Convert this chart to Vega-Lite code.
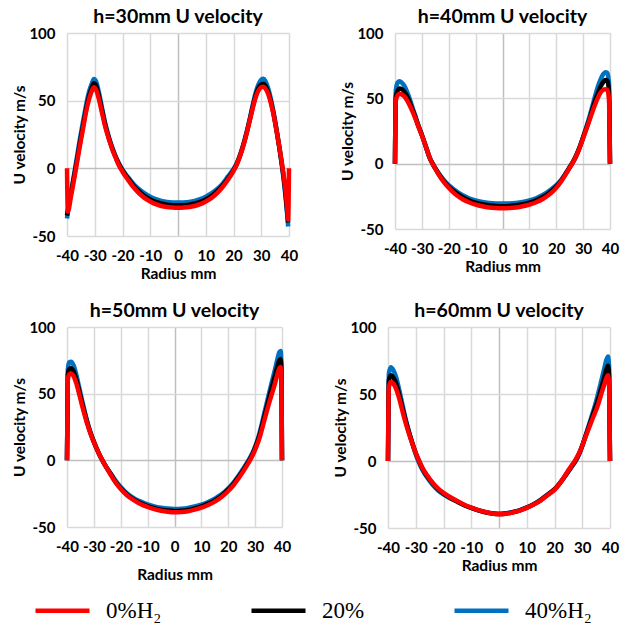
{
"$schema": "https://vega.github.io/schema/vega-lite/v6.json",
"padding": {"left": 12, "top": 6, "right": 5, "bottom": 0},
"background": "white",
"datasets": {"d": [
{"p":30,"s":"40%H₂","x":-40,"y":-37},{"p":30,"s":"40%H₂","x":-39.7,"y":-32},{"p":30,"s":"40%H₂","x":-38.5,"y":-17},{"p":30,"s":"40%H₂","x":-37,"y":1},{"p":30,"s":"40%H₂","x":-35.5,"y":20},{"p":30,"s":"40%H₂","x":-34,"y":37},{"p":30,"s":"40%H₂","x":-33,"y":48},{"p":30,"s":"40%H₂","x":-32,"y":57},{"p":30,"s":"40%H₂","x":-31,"y":63},{"p":30,"s":"40%H₂","x":-30.3,"y":66},{"p":30,"s":"40%H₂","x":-29.5,"y":64},{"p":30,"s":"40%H₂","x":-28.5,"y":56},{"p":30,"s":"40%H₂","x":-27.5,"y":46},{"p":30,"s":"40%H₂","x":-26.5,"y":36},{"p":30,"s":"40%H₂","x":-25.5,"y":27.5},{"p":30,"s":"40%H₂","x":-24.5,"y":20.5},{"p":30,"s":"40%H₂","x":-23.5,"y":14.5},{"p":30,"s":"40%H₂","x":-22.5,"y":9},{"p":30,"s":"40%H₂","x":-21.5,"y":4.5},{"p":30,"s":"40%H₂","x":-20,"y":-1},{"p":30,"s":"40%H₂","x":-18,"y":-6.5},{"p":30,"s":"40%H₂","x":-16,"y":-11.5},{"p":30,"s":"40%H₂","x":-14,"y":-15.5},{"p":30,"s":"40%H₂","x":-12,"y":-18.5},{"p":30,"s":"40%H₂","x":-10,"y":-21},{"p":30,"s":"40%H₂","x":-8,"y":-22.8},{"p":30,"s":"40%H₂","x":-6,"y":-24},{"p":30,"s":"40%H₂","x":-4,"y":-24.8},{"p":30,"s":"40%H₂","x":-2,"y":-25.2},{"p":30,"s":"40%H₂","x":0,"y":-25.3},{"p":30,"s":"40%H₂","x":2,"y":-25.2},{"p":30,"s":"40%H₂","x":4,"y":-24.8},{"p":30,"s":"40%H₂","x":6,"y":-24},{"p":30,"s":"40%H₂","x":8,"y":-22.8},{"p":30,"s":"40%H₂","x":10,"y":-21},{"p":30,"s":"40%H₂","x":12,"y":-18.5},{"p":30,"s":"40%H₂","x":14,"y":-15.5},{"p":30,"s":"40%H₂","x":16,"y":-11.5},{"p":30,"s":"40%H₂","x":18,"y":-6},{"p":30,"s":"40%H₂","x":20,"y":-0.5},{"p":30,"s":"40%H₂","x":21,"y":3},{"p":30,"s":"40%H₂","x":22,"y":8},{"p":30,"s":"40%H₂","x":23,"y":14},{"p":30,"s":"40%H₂","x":24,"y":21},{"p":30,"s":"40%H₂","x":25,"y":29},{"p":30,"s":"40%H₂","x":26,"y":38},{"p":30,"s":"40%H₂","x":27,"y":47.5},{"p":30,"s":"40%H₂","x":28,"y":56},{"p":30,"s":"40%H₂","x":29,"y":62},{"p":30,"s":"40%H₂","x":30,"y":65.5},{"p":30,"s":"40%H₂","x":30.8,"y":66.2},{"p":30,"s":"40%H₂","x":31.5,"y":64.5},{"p":30,"s":"40%H₂","x":32.5,"y":59},{"p":30,"s":"40%H₂","x":33.5,"y":51},{"p":30,"s":"40%H₂","x":34.5,"y":41},{"p":30,"s":"40%H₂","x":35.5,"y":29},{"p":30,"s":"40%H₂","x":36.5,"y":16},{"p":30,"s":"40%H₂","x":37.5,"y":1},{"p":30,"s":"40%H₂","x":38.5,"y":-16},{"p":30,"s":"40%H₂","x":39.3,"y":-33},{"p":30,"s":"40%H₂","x":39.7,"y":-43},
{"p":30,"s":"20%","x":-40,"y":-35},{"p":30,"s":"20%","x":-39.7,"y":-31},{"p":30,"s":"20%","x":-38.5,"y":-18},{"p":30,"s":"20%","x":-37,"y":-1},{"p":30,"s":"20%","x":-35.5,"y":17},{"p":30,"s":"20%","x":-34,"y":34},{"p":30,"s":"20%","x":-33,"y":45},{"p":30,"s":"20%","x":-32,"y":54},{"p":30,"s":"20%","x":-31,"y":60},{"p":30,"s":"20%","x":-30.3,"y":62.8},{"p":30,"s":"20%","x":-29.5,"y":61},{"p":30,"s":"20%","x":-28.5,"y":53.5},{"p":30,"s":"20%","x":-27.5,"y":44},{"p":30,"s":"20%","x":-26.5,"y":34.5},{"p":30,"s":"20%","x":-25.5,"y":26.5},{"p":30,"s":"20%","x":-24.5,"y":19.5},{"p":30,"s":"20%","x":-23.5,"y":13.5},{"p":30,"s":"20%","x":-22.5,"y":8.5},{"p":30,"s":"20%","x":-21.5,"y":4},{"p":30,"s":"20%","x":-20,"y":-1.5},{"p":30,"s":"20%","x":-18,"y":-7.5},{"p":30,"s":"20%","x":-16,"y":-12.8},{"p":30,"s":"20%","x":-14,"y":-17},{"p":30,"s":"20%","x":-12,"y":-20.5},{"p":30,"s":"20%","x":-10,"y":-23},{"p":30,"s":"20%","x":-8,"y":-24.8},{"p":30,"s":"20%","x":-6,"y":-26},{"p":30,"s":"20%","x":-4,"y":-26.8},{"p":30,"s":"20%","x":-2,"y":-27.2},{"p":30,"s":"20%","x":0,"y":-27.3},{"p":30,"s":"20%","x":2,"y":-27.2},{"p":30,"s":"20%","x":4,"y":-26.8},{"p":30,"s":"20%","x":6,"y":-26},{"p":30,"s":"20%","x":8,"y":-24.8},{"p":30,"s":"20%","x":10,"y":-23},{"p":30,"s":"20%","x":12,"y":-20.5},{"p":30,"s":"20%","x":14,"y":-17},{"p":30,"s":"20%","x":16,"y":-12.8},{"p":30,"s":"20%","x":18,"y":-7.5},{"p":30,"s":"20%","x":20,"y":-1.5},{"p":30,"s":"20%","x":21,"y":2.5},{"p":30,"s":"20%","x":22,"y":7.5},{"p":30,"s":"20%","x":23,"y":13.5},{"p":30,"s":"20%","x":24,"y":20.5},{"p":30,"s":"20%","x":25,"y":28.5},{"p":30,"s":"20%","x":26,"y":37},{"p":30,"s":"20%","x":27,"y":46},{"p":30,"s":"20%","x":28,"y":54},{"p":30,"s":"20%","x":29,"y":59.5},{"p":30,"s":"20%","x":30,"y":62},{"p":30,"s":"20%","x":30.8,"y":62.5},{"p":30,"s":"20%","x":31.5,"y":61},{"p":30,"s":"20%","x":32.5,"y":56.5},{"p":30,"s":"20%","x":33.5,"y":49},{"p":30,"s":"20%","x":34.5,"y":39.5},{"p":30,"s":"20%","x":35.5,"y":28},{"p":30,"s":"20%","x":36.5,"y":15.5},{"p":30,"s":"20%","x":37.5,"y":2},{"p":30,"s":"20%","x":38.5,"y":-14},{"p":30,"s":"20%","x":39.3,"y":-31},{"p":30,"s":"20%","x":39.7,"y":-40},
{"p":30,"s":"0%H₂","x":-40,"y":0},{"p":30,"s":"0%H₂","x":-39.7,"y":-32},{"p":30,"s":"0%H₂","x":-38.5,"y":-20},{"p":30,"s":"0%H₂","x":-37,"y":-3},{"p":30,"s":"0%H₂","x":-35.5,"y":15},{"p":30,"s":"0%H₂","x":-34,"y":32},{"p":30,"s":"0%H₂","x":-33,"y":43},{"p":30,"s":"0%H₂","x":-32,"y":51.5},{"p":30,"s":"0%H₂","x":-31,"y":57.5},{"p":30,"s":"0%H₂","x":-30.3,"y":60},{"p":30,"s":"0%H₂","x":-29.5,"y":58},{"p":30,"s":"0%H₂","x":-28.5,"y":51},{"p":30,"s":"0%H₂","x":-27.5,"y":42},{"p":30,"s":"0%H₂","x":-26.5,"y":33},{"p":30,"s":"0%H₂","x":-25.5,"y":25.5},{"p":30,"s":"0%H₂","x":-24.5,"y":19},{"p":30,"s":"0%H₂","x":-23.5,"y":13},{"p":30,"s":"0%H₂","x":-22.5,"y":8},{"p":30,"s":"0%H₂","x":-21.5,"y":3},{"p":30,"s":"0%H₂","x":-20,"y":-2.5},{"p":30,"s":"0%H₂","x":-18,"y":-8.5},{"p":30,"s":"0%H₂","x":-16,"y":-14},{"p":30,"s":"0%H₂","x":-14,"y":-18.5},{"p":30,"s":"0%H₂","x":-12,"y":-22},{"p":30,"s":"0%H₂","x":-10,"y":-24.5},{"p":30,"s":"0%H₂","x":-8,"y":-26.5},{"p":30,"s":"0%H₂","x":-6,"y":-27.8},{"p":30,"s":"0%H₂","x":-4,"y":-28.6},{"p":30,"s":"0%H₂","x":-2,"y":-29},{"p":30,"s":"0%H₂","x":0,"y":-29.2},{"p":30,"s":"0%H₂","x":2,"y":-29},{"p":30,"s":"0%H₂","x":4,"y":-28.6},{"p":30,"s":"0%H₂","x":6,"y":-27.8},{"p":30,"s":"0%H₂","x":8,"y":-26.5},{"p":30,"s":"0%H₂","x":10,"y":-24.5},{"p":30,"s":"0%H₂","x":12,"y":-22},{"p":30,"s":"0%H₂","x":14,"y":-18.5},{"p":30,"s":"0%H₂","x":16,"y":-14},{"p":30,"s":"0%H₂","x":18,"y":-8.5},{"p":30,"s":"0%H₂","x":20,"y":-2},{"p":30,"s":"0%H₂","x":21,"y":2},{"p":30,"s":"0%H₂","x":22,"y":7},{"p":30,"s":"0%H₂","x":23,"y":13},{"p":30,"s":"0%H₂","x":24,"y":20},{"p":30,"s":"0%H₂","x":25,"y":28},{"p":30,"s":"0%H₂","x":26,"y":36.5},{"p":30,"s":"0%H₂","x":27,"y":45},{"p":30,"s":"0%H₂","x":28,"y":52.5},{"p":30,"s":"0%H₂","x":29,"y":57.5},{"p":30,"s":"0%H₂","x":30,"y":60},{"p":30,"s":"0%H₂","x":30.8,"y":60.3},{"p":30,"s":"0%H₂","x":31.5,"y":59},{"p":30,"s":"0%H₂","x":32.5,"y":55},{"p":30,"s":"0%H₂","x":33.5,"y":48},{"p":30,"s":"0%H₂","x":34.5,"y":39},{"p":30,"s":"0%H₂","x":35.5,"y":28},{"p":30,"s":"0%H₂","x":36.5,"y":16},{"p":30,"s":"0%H₂","x":37.5,"y":3},{"p":30,"s":"0%H₂","x":38.5,"y":-12},{"p":30,"s":"0%H₂","x":39.3,"y":-28},{"p":30,"s":"0%H₂","x":39.7,"y":-38},{"p":30,"s":"0%H₂","x":40,"y":0},

{"p":40,"s":"40%H₂","x":-40,"y":0},{"p":40,"s":"40%H₂","x":-39.7,"y":56},{"p":40,"s":"40%H₂","x":-39,"y":62},{"p":40,"s":"40%H₂","x":-38.3,"y":63},{"p":40,"s":"40%H₂","x":-37.5,"y":62},{"p":40,"s":"40%H₂","x":-36.5,"y":59.5},{"p":40,"s":"40%H₂","x":-35.5,"y":55},{"p":40,"s":"40%H₂","x":-34.5,"y":49.5},{"p":40,"s":"40%H₂","x":-33.5,"y":43},{"p":40,"s":"40%H₂","x":-32.5,"y":37},{"p":40,"s":"40%H₂","x":-31.5,"y":30.5},{"p":40,"s":"40%H₂","x":-30,"y":22},{"p":40,"s":"40%H₂","x":-28.5,"y":13},{"p":40,"s":"40%H₂","x":-27,"y":4},{"p":40,"s":"40%H₂","x":-25.5,"y":-1.5},{"p":40,"s":"40%H₂","x":-24,"y":-6.5},{"p":40,"s":"40%H₂","x":-22,"y":-12},{"p":40,"s":"40%H₂","x":-20,"y":-16.5},{"p":40,"s":"40%H₂","x":-17.5,"y":-20.5},{"p":40,"s":"40%H₂","x":-15,"y":-24},{"p":40,"s":"40%H₂","x":-12.5,"y":-26.5},{"p":40,"s":"40%H₂","x":-10,"y":-28.2},{"p":40,"s":"40%H₂","x":-7.5,"y":-29.3},{"p":40,"s":"40%H₂","x":-5,"y":-30},{"p":40,"s":"40%H₂","x":-2.5,"y":-30.4},{"p":40,"s":"40%H₂","x":0,"y":-30.5},{"p":40,"s":"40%H₂","x":2.5,"y":-30.4},{"p":40,"s":"40%H₂","x":5,"y":-30},{"p":40,"s":"40%H₂","x":7.5,"y":-29.3},{"p":40,"s":"40%H₂","x":10,"y":-28.2},{"p":40,"s":"40%H₂","x":12.5,"y":-26.5},{"p":40,"s":"40%H₂","x":15,"y":-24},{"p":40,"s":"40%H₂","x":17.5,"y":-20.5},{"p":40,"s":"40%H₂","x":20,"y":-16.5},{"p":40,"s":"40%H₂","x":22,"y":-12},{"p":40,"s":"40%H₂","x":24,"y":-6},{"p":40,"s":"40%H₂","x":25.5,"y":-1},{"p":40,"s":"40%H₂","x":27,"y":4},{"p":40,"s":"40%H₂","x":28.5,"y":11.5},{"p":40,"s":"40%H₂","x":30,"y":20.5},{"p":40,"s":"40%H₂","x":31.5,"y":30},{"p":40,"s":"40%H₂","x":32.5,"y":37},{"p":40,"s":"40%H₂","x":33.5,"y":44.5},{"p":40,"s":"40%H₂","x":34.5,"y":52},{"p":40,"s":"40%H₂","x":35.5,"y":59},{"p":40,"s":"40%H₂","x":36.5,"y":64.5},{"p":40,"s":"40%H₂","x":37.5,"y":68.5},{"p":40,"s":"40%H₂","x":38.3,"y":70},{"p":40,"s":"40%H₂","x":39,"y":69.5},{"p":40,"s":"40%H₂","x":39.6,"y":62},{"p":40,"s":"40%H₂","x":40,"y":0},
{"p":40,"s":"20%","x":-40,"y":0},{"p":40,"s":"20%","x":-39.7,"y":51},{"p":40,"s":"20%","x":-39,"y":56},{"p":40,"s":"20%","x":-38.3,"y":57.5},{"p":40,"s":"20%","x":-37.5,"y":57},{"p":40,"s":"20%","x":-36.5,"y":55},{"p":40,"s":"20%","x":-35.5,"y":51.5},{"p":40,"s":"20%","x":-34.5,"y":47},{"p":40,"s":"20%","x":-33.5,"y":41.5},{"p":40,"s":"20%","x":-32.5,"y":36},{"p":40,"s":"20%","x":-31.5,"y":30},{"p":40,"s":"20%","x":-30,"y":22},{"p":40,"s":"20%","x":-28.5,"y":13},{"p":40,"s":"20%","x":-27,"y":4},{"p":40,"s":"20%","x":-25.5,"y":-2},{"p":40,"s":"20%","x":-24,"y":-7},{"p":40,"s":"20%","x":-22,"y":-13},{"p":40,"s":"20%","x":-20,"y":-17.8},{"p":40,"s":"20%","x":-17.5,"y":-22},{"p":40,"s":"20%","x":-15,"y":-25.5},{"p":40,"s":"20%","x":-12.5,"y":-28},{"p":40,"s":"20%","x":-10,"y":-29.8},{"p":40,"s":"20%","x":-7.5,"y":-31},{"p":40,"s":"20%","x":-5,"y":-31.8},{"p":40,"s":"20%","x":-2.5,"y":-32.3},{"p":40,"s":"20%","x":0,"y":-32.5},{"p":40,"s":"20%","x":2.5,"y":-32.3},{"p":40,"s":"20%","x":5,"y":-31.8},{"p":40,"s":"20%","x":7.5,"y":-31},{"p":40,"s":"20%","x":10,"y":-29.8},{"p":40,"s":"20%","x":12.5,"y":-28},{"p":40,"s":"20%","x":15,"y":-25.5},{"p":40,"s":"20%","x":17.5,"y":-22},{"p":40,"s":"20%","x":20,"y":-17.5},{"p":40,"s":"20%","x":22,"y":-12.5},{"p":40,"s":"20%","x":24,"y":-6},{"p":40,"s":"20%","x":25.5,"y":-1},{"p":40,"s":"20%","x":27,"y":4.5},{"p":40,"s":"20%","x":28.5,"y":11.5},{"p":40,"s":"20%","x":30,"y":20},{"p":40,"s":"20%","x":31.5,"y":29},{"p":40,"s":"20%","x":32.5,"y":35},{"p":40,"s":"20%","x":33.5,"y":42},{"p":40,"s":"20%","x":34.5,"y":48.5},{"p":40,"s":"20%","x":35.5,"y":54},{"p":40,"s":"20%","x":36.5,"y":59},{"p":40,"s":"20%","x":37.5,"y":62.5},{"p":40,"s":"20%","x":38.3,"y":64},{"p":40,"s":"20%","x":39,"y":63.5},{"p":40,"s":"20%","x":39.6,"y":56},{"p":40,"s":"20%","x":40,"y":0},
{"p":40,"s":"0%H₂","x":-40,"y":0},{"p":40,"s":"0%H₂","x":-39.7,"y":48},{"p":40,"s":"0%H₂","x":-39,"y":52.5},{"p":40,"s":"0%H₂","x":-38.3,"y":53.5},{"p":40,"s":"0%H₂","x":-37.5,"y":53},{"p":40,"s":"0%H₂","x":-36.5,"y":51.5},{"p":40,"s":"0%H₂","x":-35.5,"y":48.5},{"p":40,"s":"0%H₂","x":-34.5,"y":44.5},{"p":40,"s":"0%H₂","x":-33.5,"y":40},{"p":40,"s":"0%H₂","x":-32.5,"y":35},{"p":40,"s":"0%H₂","x":-31.5,"y":29.5},{"p":40,"s":"0%H₂","x":-30,"y":21.5},{"p":40,"s":"0%H₂","x":-28.5,"y":13},{"p":40,"s":"0%H₂","x":-27,"y":4},{"p":40,"s":"0%H₂","x":-25.5,"y":-2},{"p":40,"s":"0%H₂","x":-24,"y":-7.5},{"p":40,"s":"0%H₂","x":-22,"y":-13.5},{"p":40,"s":"0%H₂","x":-20,"y":-18.5},{"p":40,"s":"0%H₂","x":-17.5,"y":-23.5},{"p":40,"s":"0%H₂","x":-15,"y":-27},{"p":40,"s":"0%H₂","x":-12.5,"y":-29.5},{"p":40,"s":"0%H₂","x":-10,"y":-31.3},{"p":40,"s":"0%H₂","x":-7.5,"y":-32.6},{"p":40,"s":"0%H₂","x":-5,"y":-33.5},{"p":40,"s":"0%H₂","x":-2.5,"y":-34},{"p":40,"s":"0%H₂","x":0,"y":-34.2},{"p":40,"s":"0%H₂","x":2.5,"y":-34},{"p":40,"s":"0%H₂","x":5,"y":-33.5},{"p":40,"s":"0%H₂","x":7.5,"y":-32.6},{"p":40,"s":"0%H₂","x":10,"y":-31.3},{"p":40,"s":"0%H₂","x":12.5,"y":-29.5},{"p":40,"s":"0%H₂","x":15,"y":-27},{"p":40,"s":"0%H₂","x":17.5,"y":-23.5},{"p":40,"s":"0%H₂","x":20,"y":-18.5},{"p":40,"s":"0%H₂","x":22,"y":-13},{"p":40,"s":"0%H₂","x":24,"y":-6.5},{"p":40,"s":"0%H₂","x":25.5,"y":-1.5},{"p":40,"s":"0%H₂","x":27,"y":4},{"p":40,"s":"0%H₂","x":28.5,"y":11},{"p":40,"s":"0%H₂","x":30,"y":19.5},{"p":40,"s":"0%H₂","x":31.5,"y":28},{"p":40,"s":"0%H₂","x":32.5,"y":34},{"p":40,"s":"0%H₂","x":33.5,"y":40},{"p":40,"s":"0%H₂","x":34.5,"y":45.5},{"p":40,"s":"0%H₂","x":35.5,"y":50.5},{"p":40,"s":"0%H₂","x":36.5,"y":54.5},{"p":40,"s":"0%H₂","x":37.5,"y":56.5},{"p":40,"s":"0%H₂","x":38.3,"y":57},{"p":40,"s":"0%H₂","x":39,"y":56.5},{"p":40,"s":"0%H₂","x":39.6,"y":50},{"p":40,"s":"0%H₂","x":40,"y":0},

{"p":50,"s":"40%H₂","x":-40,"y":0},{"p":50,"s":"40%H₂","x":-39.7,"y":68},{"p":50,"s":"40%H₂","x":-39.2,"y":73.5},{"p":50,"s":"40%H₂","x":-38.5,"y":74},{"p":50,"s":"40%H₂","x":-37.5,"y":71},{"p":50,"s":"40%H₂","x":-36.5,"y":64},{"p":50,"s":"40%H₂","x":-35.5,"y":55},{"p":50,"s":"40%H₂","x":-34.5,"y":46},{"p":50,"s":"40%H₂","x":-33.5,"y":37.5},{"p":50,"s":"40%H₂","x":-32.5,"y":29.5},{"p":50,"s":"40%H₂","x":-31.5,"y":22.5},{"p":50,"s":"40%H₂","x":-30.5,"y":16.5},{"p":50,"s":"40%H₂","x":-29,"y":9},{"p":50,"s":"40%H₂","x":-27.5,"y":2.5},{"p":50,"s":"40%H₂","x":-26,"y":-3},{"p":50,"s":"40%H₂","x":-24,"y":-9},{"p":50,"s":"40%H₂","x":-22,"y":-15},{"p":50,"s":"40%H₂","x":-20,"y":-20},{"p":50,"s":"40%H₂","x":-17.5,"y":-25},{"p":50,"s":"40%H₂","x":-15,"y":-28.5},{"p":50,"s":"40%H₂","x":-12.5,"y":-31},{"p":50,"s":"40%H₂","x":-10,"y":-33},{"p":50,"s":"40%H₂","x":-7.5,"y":-34.5},{"p":50,"s":"40%H₂","x":-5,"y":-35.5},{"p":50,"s":"40%H₂","x":-2.5,"y":-36.2},{"p":50,"s":"40%H₂","x":0,"y":-36.5},{"p":50,"s":"40%H₂","x":2.5,"y":-36.3},{"p":50,"s":"40%H₂","x":5,"y":-35.7},{"p":50,"s":"40%H₂","x":7.5,"y":-34.6},{"p":50,"s":"40%H₂","x":10,"y":-33.2},{"p":50,"s":"40%H₂","x":12.5,"y":-31.2},{"p":50,"s":"40%H₂","x":15,"y":-28.7},{"p":50,"s":"40%H₂","x":17.5,"y":-25.5},{"p":50,"s":"40%H₂","x":20,"y":-21},{"p":50,"s":"40%H₂","x":22,"y":-16.5},{"p":50,"s":"40%H₂","x":24,"y":-11},{"p":50,"s":"40%H₂","x":26,"y":-5},{"p":50,"s":"40%H₂","x":27.5,"y":0},{"p":50,"s":"40%H₂","x":29,"y":5.5},{"p":50,"s":"40%H₂","x":30.5,"y":13},{"p":50,"s":"40%H₂","x":31.5,"y":19.5},{"p":50,"s":"40%H₂","x":32.5,"y":27.5},{"p":50,"s":"40%H₂","x":33.5,"y":36},{"p":50,"s":"40%H₂","x":34.5,"y":44.5},{"p":50,"s":"40%H₂","x":35.5,"y":53},{"p":50,"s":"40%H₂","x":36.5,"y":61},{"p":50,"s":"40%H₂","x":37.5,"y":69},{"p":50,"s":"40%H₂","x":38.3,"y":76},{"p":50,"s":"40%H₂","x":39,"y":81},{"p":50,"s":"40%H₂","x":39.5,"y":82},{"p":50,"s":"40%H₂","x":39.8,"y":70},{"p":50,"s":"40%H₂","x":40,"y":0},
{"p":50,"s":"20%","x":-40,"y":0},{"p":50,"s":"20%","x":-39.7,"y":64},{"p":50,"s":"20%","x":-39.2,"y":68.5},{"p":50,"s":"20%","x":-38.5,"y":69},{"p":50,"s":"20%","x":-37.5,"y":66.5},{"p":50,"s":"20%","x":-36.5,"y":60.5},{"p":50,"s":"20%","x":-35.5,"y":52.5},{"p":50,"s":"20%","x":-34.5,"y":44},{"p":50,"s":"20%","x":-33.5,"y":36},{"p":50,"s":"20%","x":-32.5,"y":28.5},{"p":50,"s":"20%","x":-31.5,"y":22},{"p":50,"s":"20%","x":-30.5,"y":16.5},{"p":50,"s":"20%","x":-29,"y":9},{"p":50,"s":"20%","x":-27.5,"y":2.5},{"p":50,"s":"20%","x":-26,"y":-3},{"p":50,"s":"20%","x":-24,"y":-9.5},{"p":50,"s":"20%","x":-22,"y":-16},{"p":50,"s":"20%","x":-20,"y":-21},{"p":50,"s":"20%","x":-17.5,"y":-26},{"p":50,"s":"20%","x":-15,"y":-29.5},{"p":50,"s":"20%","x":-12.5,"y":-32.3},{"p":50,"s":"20%","x":-10,"y":-34.3},{"p":50,"s":"20%","x":-7.5,"y":-35.8},{"p":50,"s":"20%","x":-5,"y":-37},{"p":50,"s":"20%","x":-2.5,"y":-37.7},{"p":50,"s":"20%","x":0,"y":-38},{"p":50,"s":"20%","x":2.5,"y":-37.8},{"p":50,"s":"20%","x":5,"y":-37.2},{"p":50,"s":"20%","x":7.5,"y":-36},{"p":50,"s":"20%","x":10,"y":-34.5},{"p":50,"s":"20%","x":12.5,"y":-32.5},{"p":50,"s":"20%","x":15,"y":-30},{"p":50,"s":"20%","x":17.5,"y":-26.5},{"p":50,"s":"20%","x":20,"y":-22},{"p":50,"s":"20%","x":22,"y":-17.5},{"p":50,"s":"20%","x":24,"y":-12},{"p":50,"s":"20%","x":26,"y":-6},{"p":50,"s":"20%","x":27.5,"y":-1},{"p":50,"s":"20%","x":29,"y":4.5},{"p":50,"s":"20%","x":30.5,"y":12},{"p":50,"s":"20%","x":31.5,"y":18},{"p":50,"s":"20%","x":32.5,"y":25.5},{"p":50,"s":"20%","x":33.5,"y":33.5},{"p":50,"s":"20%","x":34.5,"y":41.5},{"p":50,"s":"20%","x":35.5,"y":49.5},{"p":50,"s":"20%","x":36.5,"y":57},{"p":50,"s":"20%","x":37.5,"y":64.5},{"p":50,"s":"20%","x":38.3,"y":70.5},{"p":50,"s":"20%","x":39,"y":75},{"p":50,"s":"20%","x":39.5,"y":76},{"p":50,"s":"20%","x":39.8,"y":65},{"p":50,"s":"20%","x":40,"y":0},
{"p":50,"s":"0%H₂","x":-40,"y":0},{"p":50,"s":"0%H₂","x":-39.7,"y":60},{"p":50,"s":"0%H₂","x":-39.2,"y":64.5},{"p":50,"s":"0%H₂","x":-38.5,"y":65},{"p":50,"s":"0%H₂","x":-37.5,"y":63},{"p":50,"s":"0%H₂","x":-36.5,"y":57.5},{"p":50,"s":"0%H₂","x":-35.5,"y":50},{"p":50,"s":"0%H₂","x":-34.5,"y":42},{"p":50,"s":"0%H₂","x":-33.5,"y":34.5},{"p":50,"s":"0%H₂","x":-32.5,"y":27.5},{"p":50,"s":"0%H₂","x":-31.5,"y":21.5},{"p":50,"s":"0%H₂","x":-30.5,"y":16},{"p":50,"s":"0%H₂","x":-29,"y":9},{"p":50,"s":"0%H₂","x":-27.5,"y":2.5},{"p":50,"s":"0%H₂","x":-26,"y":-3},{"p":50,"s":"0%H₂","x":-24,"y":-10},{"p":50,"s":"0%H₂","x":-22,"y":-16.5},{"p":50,"s":"0%H₂","x":-20,"y":-21.5},{"p":50,"s":"0%H₂","x":-17.5,"y":-26.5},{"p":50,"s":"0%H₂","x":-15,"y":-30},{"p":50,"s":"0%H₂","x":-12.5,"y":-33},{"p":50,"s":"0%H₂","x":-10,"y":-35},{"p":50,"s":"0%H₂","x":-7.5,"y":-36.6},{"p":50,"s":"0%H₂","x":-5,"y":-37.8},{"p":50,"s":"0%H₂","x":-2.5,"y":-38.6},{"p":50,"s":"0%H₂","x":0,"y":-39},{"p":50,"s":"0%H₂","x":2.5,"y":-38.8},{"p":50,"s":"0%H₂","x":5,"y":-38.2},{"p":50,"s":"0%H₂","x":7.5,"y":-37},{"p":50,"s":"0%H₂","x":10,"y":-35.5},{"p":50,"s":"0%H₂","x":12.5,"y":-33.5},{"p":50,"s":"0%H₂","x":15,"y":-31},{"p":50,"s":"0%H₂","x":17.5,"y":-27.5},{"p":50,"s":"0%H₂","x":20,"y":-23},{"p":50,"s":"0%H₂","x":22,"y":-18.5},{"p":50,"s":"0%H₂","x":24,"y":-13},{"p":50,"s":"0%H₂","x":26,"y":-7},{"p":50,"s":"0%H₂","x":27.5,"y":-2},{"p":50,"s":"0%H₂","x":29,"y":3.5},{"p":50,"s":"0%H₂","x":30.5,"y":10.5},{"p":50,"s":"0%H₂","x":31.5,"y":16},{"p":50,"s":"0%H₂","x":32.5,"y":23},{"p":50,"s":"0%H₂","x":33.5,"y":30.5},{"p":50,"s":"0%H₂","x":34.5,"y":38},{"p":50,"s":"0%H₂","x":35.5,"y":45},{"p":50,"s":"0%H₂","x":36.5,"y":51.5},{"p":50,"s":"0%H₂","x":37.5,"y":58.5},{"p":50,"s":"0%H₂","x":38.3,"y":64.5},{"p":50,"s":"0%H₂","x":39,"y":69},{"p":50,"s":"0%H₂","x":39.5,"y":70},{"p":50,"s":"0%H₂","x":39.8,"y":60},{"p":50,"s":"0%H₂","x":40,"y":0},

{"p":60,"s":"40%H₂","x":-40,"y":0},{"p":60,"s":"40%H₂","x":-39.7,"y":65},{"p":60,"s":"40%H₂","x":-39,"y":70},{"p":60,"s":"40%H₂","x":-38,"y":67.5},{"p":60,"s":"40%H₂","x":-37,"y":62},{"p":60,"s":"40%H₂","x":-36,"y":53.5},{"p":60,"s":"40%H₂","x":-35,"y":44},{"p":60,"s":"40%H₂","x":-34,"y":34.5},{"p":60,"s":"40%H₂","x":-33,"y":26},{"p":60,"s":"40%H₂","x":-32,"y":18.5},{"p":60,"s":"40%H₂","x":-31,"y":11.5},{"p":60,"s":"40%H₂","x":-30,"y":5},{"p":60,"s":"40%H₂","x":-29,"y":-0.5},{"p":60,"s":"40%H₂","x":-27.5,"y":-7},{"p":60,"s":"40%H₂","x":-26,"y":-12},{"p":60,"s":"40%H₂","x":-24,"y":-17.5},{"p":60,"s":"40%H₂","x":-22,"y":-21.8},{"p":60,"s":"40%H₂","x":-20,"y":-25},{"p":60,"s":"40%H₂","x":-18,"y":-27.5},{"p":60,"s":"40%H₂","x":-15,"y":-30.5},{"p":60,"s":"40%H₂","x":-12.5,"y":-33},{"p":60,"s":"40%H₂","x":-10,"y":-35},{"p":60,"s":"40%H₂","x":-7.5,"y":-36.7},{"p":60,"s":"40%H₂","x":-5,"y":-38},{"p":60,"s":"40%H₂","x":-2.5,"y":-39},{"p":60,"s":"40%H₂","x":0,"y":-39.3},{"p":60,"s":"40%H₂","x":2.5,"y":-39},{"p":60,"s":"40%H₂","x":5,"y":-38},{"p":60,"s":"40%H₂","x":7.5,"y":-36.6},{"p":60,"s":"40%H₂","x":10,"y":-34.6},{"p":60,"s":"40%H₂","x":12.5,"y":-32.2},{"p":60,"s":"40%H₂","x":15,"y":-29},{"p":60,"s":"40%H₂","x":17.5,"y":-25},{"p":60,"s":"40%H₂","x":20,"y":-21},{"p":60,"s":"40%H₂","x":22.5,"y":-15},{"p":60,"s":"40%H₂","x":25,"y":-8},{"p":60,"s":"40%H₂","x":26.5,"y":-3.5},{"p":60,"s":"40%H₂","x":27.5,"y":-0.5},{"p":60,"s":"40%H₂","x":29,"y":5.5},{"p":60,"s":"40%H₂","x":30,"y":11},{"p":60,"s":"40%H₂","x":31,"y":17.5},{"p":60,"s":"40%H₂","x":32.5,"y":27.5},{"p":60,"s":"40%H₂","x":34,"y":37.5},{"p":60,"s":"40%H₂","x":35,"y":44.5},{"p":60,"s":"40%H₂","x":36,"y":52.5},{"p":60,"s":"40%H₂","x":37,"y":61},{"p":60,"s":"40%H₂","x":38,"y":69.5},{"p":60,"s":"40%H₂","x":38.7,"y":75.5},{"p":60,"s":"40%H₂","x":39.3,"y":78},{"p":60,"s":"40%H₂","x":39.7,"y":68},{"p":60,"s":"40%H₂","x":40,"y":0},
{"p":60,"s":"20%","x":-40,"y":0},{"p":60,"s":"20%","x":-39.7,"y":60},{"p":60,"s":"20%","x":-39,"y":64},{"p":60,"s":"20%","x":-38,"y":62},{"p":60,"s":"20%","x":-37,"y":57.5},{"p":60,"s":"20%","x":-36,"y":50},{"p":60,"s":"20%","x":-35,"y":41.5},{"p":60,"s":"20%","x":-34,"y":33},{"p":60,"s":"20%","x":-33,"y":25.5},{"p":60,"s":"20%","x":-32,"y":18.5},{"p":60,"s":"20%","x":-31,"y":12},{"p":60,"s":"20%","x":-30,"y":6},{"p":60,"s":"20%","x":-29,"y":1},{"p":60,"s":"20%","x":-27.5,"y":-6},{"p":60,"s":"20%","x":-26,"y":-11},{"p":60,"s":"20%","x":-24,"y":-16.5},{"p":60,"s":"20%","x":-22,"y":-21},{"p":60,"s":"20%","x":-20,"y":-24.3},{"p":60,"s":"20%","x":-18,"y":-27},{"p":60,"s":"20%","x":-15,"y":-30.3},{"p":60,"s":"20%","x":-12.5,"y":-33},{"p":60,"s":"20%","x":-10,"y":-35},{"p":60,"s":"20%","x":-7.5,"y":-36.8},{"p":60,"s":"20%","x":-5,"y":-38.2},{"p":60,"s":"20%","x":-2.5,"y":-39.2},{"p":60,"s":"20%","x":0,"y":-39.6},{"p":60,"s":"20%","x":2.5,"y":-39.2},{"p":60,"s":"20%","x":5,"y":-38.2},{"p":60,"s":"20%","x":7.5,"y":-36.8},{"p":60,"s":"20%","x":10,"y":-34.8},{"p":60,"s":"20%","x":12.5,"y":-32.3},{"p":60,"s":"20%","x":15,"y":-29.2},{"p":60,"s":"20%","x":17.5,"y":-25.2},{"p":60,"s":"20%","x":20,"y":-21.2},{"p":60,"s":"20%","x":22.5,"y":-15},{"p":60,"s":"20%","x":25,"y":-7.5},{"p":60,"s":"20%","x":26.5,"y":-3},{"p":60,"s":"20%","x":27.5,"y":0},{"p":60,"s":"20%","x":29,"y":6},{"p":60,"s":"20%","x":30,"y":11.5},{"p":60,"s":"20%","x":31,"y":17.5},{"p":60,"s":"20%","x":32.5,"y":26.5},{"p":60,"s":"20%","x":34,"y":35.5},{"p":60,"s":"20%","x":35,"y":41.5},{"p":60,"s":"20%","x":36,"y":48},{"p":60,"s":"20%","x":37,"y":55.5},{"p":60,"s":"20%","x":38,"y":63},{"p":60,"s":"20%","x":38.7,"y":68.5},{"p":60,"s":"20%","x":39.3,"y":71},{"p":60,"s":"20%","x":39.7,"y":62},{"p":60,"s":"20%","x":40,"y":0},
{"p":60,"s":"0%H₂","x":-40,"y":0},{"p":60,"s":"0%H₂","x":-39.7,"y":55},{"p":60,"s":"0%H₂","x":-39,"y":59},{"p":60,"s":"0%H₂","x":-38,"y":57.5},{"p":60,"s":"0%H₂","x":-37,"y":53.5},{"p":60,"s":"0%H₂","x":-36,"y":47},{"p":60,"s":"0%H₂","x":-35,"y":39},{"p":60,"s":"0%H₂","x":-34,"y":31},{"p":60,"s":"0%H₂","x":-33,"y":24},{"p":60,"s":"0%H₂","x":-32,"y":17.5},{"p":60,"s":"0%H₂","x":-31,"y":11.5},{"p":60,"s":"0%H₂","x":-30,"y":6},{"p":60,"s":"0%H₂","x":-29,"y":1},{"p":60,"s":"0%H₂","x":-27.5,"y":-5.5},{"p":60,"s":"0%H₂","x":-26,"y":-10.5},{"p":60,"s":"0%H₂","x":-24,"y":-16},{"p":60,"s":"0%H₂","x":-22,"y":-20.5},{"p":60,"s":"0%H₂","x":-20,"y":-23.8},{"p":60,"s":"0%H₂","x":-18,"y":-26.5},{"p":60,"s":"0%H₂","x":-15,"y":-30},{"p":60,"s":"0%H₂","x":-12.5,"y":-32.7},{"p":60,"s":"0%H₂","x":-10,"y":-34.8},{"p":60,"s":"0%H₂","x":-7.5,"y":-36.6},{"p":60,"s":"0%H₂","x":-5,"y":-38},{"p":60,"s":"0%H₂","x":-2.5,"y":-39.2},{"p":60,"s":"0%H₂","x":0,"y":-39.7},{"p":60,"s":"0%H₂","x":2.5,"y":-39.3},{"p":60,"s":"0%H₂","x":5,"y":-38.3},{"p":60,"s":"0%H₂","x":7.5,"y":-37},{"p":60,"s":"0%H₂","x":10,"y":-35},{"p":60,"s":"0%H₂","x":12.5,"y":-32.5},{"p":60,"s":"0%H₂","x":15,"y":-29.5},{"p":60,"s":"0%H₂","x":17.5,"y":-25.5},{"p":60,"s":"0%H₂","x":20,"y":-21.5},{"p":60,"s":"0%H₂","x":22.5,"y":-15},{"p":60,"s":"0%H₂","x":25,"y":-7},{"p":60,"s":"0%H₂","x":26.5,"y":-2.5},{"p":60,"s":"0%H₂","x":27.5,"y":0.7},{"p":60,"s":"0%H₂","x":29,"y":6.5},{"p":60,"s":"0%H₂","x":30,"y":11.5},{"p":60,"s":"0%H₂","x":31,"y":17},{"p":60,"s":"0%H₂","x":32.5,"y":25},{"p":60,"s":"0%H₂","x":34,"y":33},{"p":60,"s":"0%H₂","x":35,"y":38},{"p":60,"s":"0%H₂","x":36,"y":44},{"p":60,"s":"0%H₂","x":37,"y":51},{"p":60,"s":"0%H₂","x":38,"y":57.5},{"p":60,"s":"0%H₂","x":38.7,"y":62},{"p":60,"s":"0%H₂","x":39.3,"y":64},{"p":60,"s":"0%H₂","x":39.7,"y":56},{"p":60,"s":"0%H₂","x":40,"y":0}
]},
"data": {"name": "d"},
"spacing": 18,
"vconcat": [
 {"hconcat": [
  {"title": "h=30mm U velocity", "width": 222, "height": 203,
   "transform": [{"filter": "datum.p == 30"}],
   "encoding": {
     "x": {"field": "x", "type": "quantitative", "scale": {"domain": [-40, 40], "nice": false}, "axis": {"values": [-40,-30,-20,-10,0,10,20,30,40], "title": "Radius mm"}},
     "y": {"field": "y", "type": "quantitative", "scale": {"domain": [-50, 100], "nice": false}, "axis": {"values": [-50,0,50,100], "title": "U velocity m/s"}},
     "color": {"field": "s", "type": "nominal", "scale": {"domain": ["0%H₂","20%","40%H₂"], "range": ["#ff0000","#000000","#0070c0"]}}
   },
   "layer": [
    {"transform": [{"filter": "datum.s == '40%H₂'"}], "mark": {"type": "line", "strokeWidth": 4.5, "interpolate": "monotone"}},
    {"transform": [{"filter": "datum.s == '20%'"}], "mark": {"type": "line", "strokeWidth": 4.5, "interpolate": "monotone"}},
    {"transform": [{"filter": "datum.s == '0%H₂'"}], "mark": {"type": "line", "strokeWidth": 4.5, "interpolate": "monotone"}}
   ]},
  {"title": "h=40mm U velocity", "width": 215, "height": 196,
   "transform": [{"filter": "datum.p == 40"}],
   "encoding": {
     "x": {"field": "x", "type": "quantitative", "scale": {"domain": [-40, 40], "nice": false}, "axis": {"values": [-40,-30,-20,-10,0,10,20,30,40], "title": "Radius mm"}},
     "y": {"field": "y", "type": "quantitative", "scale": {"domain": [-50, 100], "nice": false}, "axis": {"values": [-50,0,50,100], "title": "U velocity m/s"}},
     "color": {"field": "s", "type": "nominal", "scale": {"domain": ["0%H₂","20%","40%H₂"], "range": ["#ff0000","#000000","#0070c0"]}}
   },
   "layer": [
    {"transform": [{"filter": "datum.s == '40%H₂'"}], "mark": {"type": "line", "strokeWidth": 4.5, "interpolate": "monotone"}},
    {"transform": [{"filter": "datum.s == '20%'"}], "mark": {"type": "line", "strokeWidth": 4.5, "interpolate": "monotone"}},
    {"transform": [{"filter": "datum.s == '0%H₂'"}], "mark": {"type": "line", "strokeWidth": 4.5, "interpolate": "monotone"}}
   ]}
 ], "spacing": 42},
 {"hconcat": [
  {"title": "h=50mm U velocity", "width": 215, "height": 200,
   "transform": [{"filter": "datum.p == 50"}],
   "encoding": {
     "x": {"field": "x", "type": "quantitative", "scale": {"domain": [-40, 40], "nice": false}, "axis": {"values": [-40,-30,-20,-10,0,10,20,30,40], "title": "Radius mm", "titlePadding": 13}},
     "y": {"field": "y", "type": "quantitative", "scale": {"domain": [-50, 100], "nice": false}, "axis": {"values": [-50,0,50,100], "title": "U velocity m/s"}},
     "color": {"field": "s", "type": "nominal", "scale": {"domain": ["0%H₂","20%","40%H₂"], "range": ["#ff0000","#000000","#0070c0"]}}
   },
   "layer": [
    {"transform": [{"filter": "datum.s == '40%H₂'"}], "mark": {"type": "line", "strokeWidth": 4.5, "interpolate": "monotone"}},
    {"transform": [{"filter": "datum.s == '20%'"}], "mark": {"type": "line", "strokeWidth": 4.5, "interpolate": "monotone"}},
    {"transform": [{"filter": "datum.s == '0%H₂'"}], "mark": {"type": "line", "strokeWidth": 4.5, "interpolate": "monotone"}}
   ]},
  {"title": "h=60mm U velocity", "width": 222, "height": 201,
   "transform": [{"filter": "datum.p == 60"}],
   "encoding": {
     "x": {"field": "x", "type": "quantitative", "scale": {"domain": [-40, 40], "nice": false}, "axis": {"values": [-40,-30,-20,-10,0,10,20,30,40], "title": "Radius mm"}},
     "y": {"field": "y", "type": "quantitative", "scale": {"domain": [-50, 100], "nice": false}, "axis": {"values": [-50,0,50,100], "title": "U velocity m/s"}},
     "color": {"field": "s", "type": "nominal", "scale": {"domain": ["0%H₂","20%","40%H₂"], "range": ["#ff0000","#000000","#0070c0"]}}
   },
   "layer": [
    {"transform": [{"filter": "datum.s == '40%H₂'"}], "mark": {"type": "line", "strokeWidth": 4.5, "interpolate": "monotone"}},
    {"transform": [{"filter": "datum.s == '20%'"}], "mark": {"type": "line", "strokeWidth": 4.5, "interpolate": "monotone"}},
    {"transform": [{"filter": "datum.s == '0%H₂'"}], "mark": {"type": "line", "strokeWidth": 4.5, "interpolate": "monotone"}}
   ]}
 ], "spacing": 42}
],
"config": {
  "view": {"stroke": null},
  "title": {"font": "Lato", "fontSize": 19.5, "fontWeight": "bold", "color": "#000000", "frame": "group", "anchor": "middle", "offset": -1},
  "axis": {"labelFont": "Lato", "labelFontWeight": "bold", "labelFontSize": 15, "labelColor": "#000000", "labelExpr": "'' + datum.value", "titleFont": "Lato", "titleFontWeight": "bold", "titleFontSize": 15.5, "titleColor": "#000000", "domain": false, "ticks": false, "gridColor": {"condition": {"test": "datum.value === 0", "value": "#bfbfbf"}, "value": "#d9d9d9"}, "gridWidth": 1.5, "labelOverlap": false, "labelFlush": false, "labelBound": false},
  "axisX": {"labelPadding": 12, "titlePadding": 3},
  "axisY": {"labelPadding": 12, "titlePadding": 1},
  "legend": {"orient": "none", "legendX": -34, "legendY": 548, "direction": "horizontal", "title": null, "symbolType": "stroke", "symbolSize": 2916, "symbolStrokeWidth": 4.5, "labelFont": "Liberation Serif", "labelFontSize": 23, "labelColor": "#000000", "columnPadding": 80, "gridAlign": "each", "labelOffset": 14, "symbolOffset": 0, "padding": 0}
}
}
